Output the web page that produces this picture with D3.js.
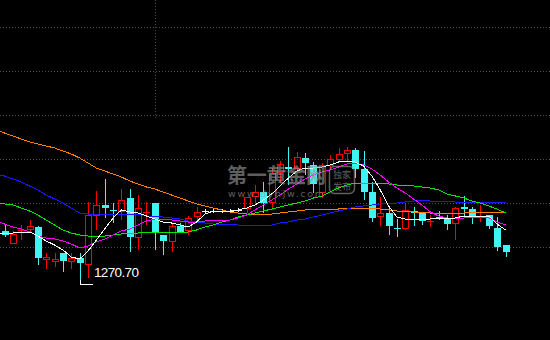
<!DOCTYPE html>
<html>
<head>
<meta charset="utf-8">
<script src="https://cdn.jsdelivr.net/npm/d3@7"></script>
<style>
html, body { margin: 0; padding: 0; background: #000; }
</style>
</head>
<body>
<div id="chart"></div>
<script>
var width = 550, height = 340;

// horizontal grid levels and the marked low
var gridPrices = [1321.3, 1312.5, 1303.7, 1294.9, 1286.1, 1277.3];
var lowLabel = "1270.70";
var lowIndex = 9;
var cursorIndex = 18;

// daily candles, oldest first
var opens  = [1280.5,1278.1,1280.5,1280.9,1281.3,1274.9,1274.5,1276.1,1274.5,1275.1,
              1273.9,1283.7,1285.7,1284.7,1284.5,1287.1,1279.3,1284.1,1286.1,1279.7,
              1278.5,1281.5,1280.7,1283.5,1284.5,1284.5,1284.5,1284.5,1284.7,1285.1,
              1287.5,1288.3,1286.3,1292.3,1293.3,1293.1,1295.1,1293.7,1288.3,1293.7,
              1294.9,1296.1,1296.7,1292.9,1288.3,1283.5,1284.1,1281.1,1281.1,1284.5,
              1284.1,1282.3,1283.3,1282.9,1282.1,1285.3,1284.9,1283.1,1283.7,1281.1,1277.7];
var highs  = [1281.7,1280.5,1281.7,1282.7,1281.5,1276.1,1276.1,1276.1,1276.1,1276.1,
              1286.3,1288.5,1290.9,1286.1,1288.9,1288.9,1287.7,1286.3,1286.1,1279.7,
              1282.1,1282.1,1283.5,1285.3,1284.9,1284.9,1284.9,1284.9,1285.1,1287.3,
              1289.7,1290.3,1293.1,1294.5,1297.3,1296.3,1296.1,1294.3,1294.1,1295.7,
              1297.1,1297.3,1297.1,1296.5,1290.3,1287.3,1285.3,1282.9,1286.1,1285.3,
              1284.1,1283.7,1284.5,1283.7,1285.3,1287.5,1285.3,1285.7,1283.7,1283.3,1277.7];
var lows   = [1279.3,1277.9,1278.7,1280.3,1273.7,1272.9,1273.3,1272.3,1272.9,1270.7,
              1271.1,1280.7,1283.1,1282.1,1282.7,1276.3,1276.7,1281.7,1276.7,1275.7,
              1276.3,1280.1,1279.7,1282.3,1284.1,1284.1,1284.1,1284.1,1284.3,1284.1,
              1286.1,1284.1,1284.7,1290.1,1289.7,1292.1,1291.7,1288.1,1287.1,1292.7,
              1294.3,1294.3,1291.1,1286.7,1282.3,1281.5,1279.7,1279.3,1280.7,1281.5,
              1281.7,1281.3,1282.7,1280.7,1278.7,1283.3,1281.9,1282.3,1280.9,1276.5,1275.3];
var closes = [1279.7,1279.9,1280.7,1281.5,1275.1,1275.3,1274.9,1274.5,1275.1,1274.1,
              1283.7,1285.7,1285.1,1284.5,1286.7,1279.3,1285.1,1284.3,1280.3,1278.5,
              1281.5,1280.3,1283.1,1284.3,1284.5,1284.5,1284.5,1284.5,1284.7,1287.3,
              1288.3,1286.1,1292.1,1293.9,1292.9,1295.3,1294.1,1289.9,1293.7,1294.9,
              1295.9,1296.7,1292.9,1288.3,1283.1,1284.1,1281.5,1280.9,1284.7,1284.1,
              1282.5,1282.5,1283.1,1281.9,1285.1,1284.9,1283.3,1283.3,1281.5,1277.3,1276.3];

// moving averages, first value belongs to the day before the first candle
var ma5  = [1280.1,1280.1,1280.1,1280.3,1280.3,1279.5,1278.5,1277.7,1276.7,1275.3,1274.9,
            1276.5,1278.7,1280.9,1283.1,1284.7,1284.3,1284.1,1283.5,1282.9,1282.3,
            1282.1,1281.7,1281.3,1282.3,1283.9,1284.5,1284.5,1284.5,1284.7,1285.1,
            1285.7,1286.7,1287.9,1289.5,1291.1,1292.5,1293.1,1293.1,1293.3,1293.7,
            1294.3,1294.5,1294.3,1293.5,1291.5,1288.7,1285.5,1283.3,1282.9,1282.9,
            1282.9,1282.9,1283.1,1283.1,1283.1,1283.5,1283.5,1283.5,1283.5,1281.9,1280.7];
var ma10 = [1282.5,1281.9,1281.3,1280.9,1280.3,1279.5,1279.1,1278.9,1278.5,1277.9,1277.1,
            1277.5,1278.3,1278.9,1279.7,1280.5,1280.9,1281.7,1282.5,1282.9,1282.9,
            1282.7,1282.5,1282.3,1282.3,1282.5,1282.7,1282.7,1282.7,1283.1,1283.7,
            1284.7,1285.7,1286.7,1287.7,1288.9,1289.9,1290.9,1291.7,1292.3,1292.7,
            1293.3,1293.9,1294.1,1293.7,1292.9,1291.7,1290.3,1289.1,1288.1,1286.9,
            1285.7,1284.3,1283.5,1283.1,1282.9,1283.1,1283.3,1283.3,1283.1,1282.3,1281.7];
var ma20 = [1286.3,1285.9,1285.7,1285.1,1284.5,1283.7,1282.7,1281.7,1280.7,1280.1,1279.7,
            1279.5,1279.5,1279.5,1279.7,1279.9,1280.1,1280.1,1280.3,1280.3,1280.3,
            1280.3,1280.3,1280.3,1280.7,1281.3,1281.7,1282.3,1282.7,1283.3,1283.7,
            1284.1,1284.5,1284.9,1285.3,1285.7,1286.1,1286.5,1287.1,1287.5,1288.3,
            1289.1,1289.7,1290.1,1290.1,1290.1,1290.1,1289.9,1289.7,1289.7,1289.5,
            1289.3,1289.1,1288.7,1287.9,1287.5,1287.1,1286.5,1286.1,1285.5,1284.9,1284.1];
var ma30 = [1291.9,1291.5,1290.9,1290.3,1289.5,1288.7,1287.7,1286.9,1286.1,1285.1,1284.1,
            1283.9,1283.9,1283.9,1283.9,1283.9,1283.9,1283.9,1283.5,1283.5,1283.3,
            1283.1,1282.9,1282.5,1282.3,1282.1,1281.9,1281.9,1281.9,1281.7,1281.7,
            1281.7,1281.7,1281.7,1282.1,1282.3,1282.7,1282.9,1283.3,1283.7,1284.1,
            1284.5,1284.9,1285.3,1285.5,1285.7,1285.9,1286.1,1286.1,1286.3,1286.5,
            1286.7,1286.5,1286.5,1286.5,1286.3,1286.3,1286.3,1286.3,1286.3,1286.3,1286.1];
var ma60 = [1300.7,1300.1,1299.5,1298.9,1298.3,1297.9,1297.5,1297.1,1296.5,1295.9,1295.1,
            1294.1,1293.1,1292.5,1291.9,1291.3,1290.5,1289.9,1289.3,1288.9,1288.3,
            1287.7,1287.1,1286.5,1285.9,1285.5,1285.1,1284.7,1284.3,1284.1,1283.9,
            1283.9,1283.9,1283.9,1284.1,1284.3,1284.5,1284.7,1284.9,1284.9,1284.9,
            1284.9,1285.1,1285.1,1285.1,1285.1,1284.9,1284.7,1284.5,1284.5,1284.3,
            1284.3,1284.1,1284.1,1284.1,1284.1,1284.1,1284.3,1284.3,1284.3,1284.3,1284.3];

var maSeries = [
    {values: ma60, color: "#ff8000"},
    {values: ma30, color: "#1a1aff"},
    {values: ma20, color: "#00e600"},
    {values: ma10, color: "#ff00ff"},
    {values: ma5,  color: "#ffffff"}
];

var upColor = "#ff0000", downColor = "#40f4f4", flatColor = "#ffffff";

var svg = d3.select("#chart").append("svg")
    .attr("width", width)
    .attr("height", height)
    .style("display", "block")
    .style("background", "#000");

var xScale = d3.scaleLinear()
    .domain([0, opens.length - 1])
    .range([4.5, 505.5]);

var yScale = d3.scaleLinear()
    .domain([1258.7, 1326.7])
    .range([height, 0]);

function px(i){ return Math.round(xScale(i)); }
function py(v){ return Math.round(yScale(v)); }

//Grid lines
svg.append("g").selectAll("line")
    .data(gridPrices)
    .enter().append("line")
    .attr("x1", 0)
    .attr("x2", width)
    .attr("y1", function(d){ return py(d) + 0.5; })
    .attr("y2", function(d){ return py(d) + 0.5; })
    .style("stroke", "#4a4a4a")
    .style("stroke-dasharray", "1,2");

//cursor line
svg.append("line")
    .attr("x1", px(cursorIndex) + 0.5)
    .attr("x2", px(cursorIndex) + 0.5)
    .attr("y1", 0)
    .attr("y2", py(gridPrices[2]) + 5)
    .style("stroke", "#4a4a4a")
    .style("stroke-dasharray", "1,2");

//Candles
var candles = svg.append("g").attr("shape-rendering", "crispEdges");

opens.forEach(function(o, i){
    var c = closes[i], h = highs[i], l = lows[i];
    var x = px(i);
    var top = py(Math.max(o, c)), bot = py(Math.min(o, c));
    var color = c > o ? upColor : (c < o ? downColor : flatColor);

    if (c > o && bot - top > 1){
        // hollow up candle
        candles.append("line")
            .attr("x1", x + 0.5).attr("x2", x + 0.5)
            .attr("y1", py(h)).attr("y2", top)
            .style("stroke", color);
        candles.append("line")
            .attr("x1", x + 0.5).attr("x2", x + 0.5)
            .attr("y1", bot).attr("y2", py(l))
            .style("stroke", color);
        candles.append("rect")
            .attr("x", x - 2.5)
            .attr("y", top + 0.5)
            .attr("width", 6)
            .attr("height", bot - top)
            .style("fill", "none")
            .style("stroke", color);
    } else {
        candles.append("line")
            .attr("x1", x + 0.5).attr("x2", x + 0.5)
            .attr("y1", py(h)).attr("y2", py(l))
            .style("stroke", color);
        candles.append("rect")
            .attr("x", x - 3)
            .attr("y", top)
            .attr("width", 7)
            .attr("height", Math.max(1, bot - top))
            .style("fill", color);
    }
});

//Moving averages
var maLine = d3.line()
    .x(function(d, i){ return xScale(i - 1); })
    .y(function(d){ return yScale(d); });

svg.append("g").selectAll("path")
    .data(maSeries)
    .enter().append("path")
    .attr("d", function(d){ return maLine(d.values); })
    .style("fill", "none")
    .style("stroke", function(d){ return d.color; })
    .style("stroke-width", 1)
    .attr("shape-rendering", "crispEdges");

//Low marker
var lx = px(lowIndex), ly = py(lows[lowIndex]);
svg.append("path")
    .attr("d", "M" + (lx + 0.5) + "," + ly + "V" + (ly + 4.5) + "H" + (lx + 13))
    .style("fill", "none")
    .style("stroke", "#ffffff")
    .attr("shape-rendering", "crispEdges");

svg.append("text")
    .attr("x", lx + 14)
    .attr("y", ly - 3)
    .attr("textLength", 45)
    .style("font-family", "'Liberation Sans', Arial, sans-serif")
    .style("font-size", "13.5px")
    .style("fill", "#ffffff")
    .text(lowLabel);

//Watermark
var wm = svg.append("g").style("opacity", 0.62);

wm.append("text")
    .attr("x", 227)
    .attr("y", 183)
    .attr("textLength", 99)
    .style("font-family", "'Noto Sans CJK SC', sans-serif")
    .style("font-weight", "bold")
    .style("font-size", "20px")
    .style("fill", "#9a9a9a")
    .text("第一黄金网");

wm.append("text")
    .attr("x", 228)
    .attr("y", 197)
    .attr("textLength", 96)
    .style("font-family", "'DejaVu Sans', sans-serif")
    .style("font-size", "9.5px")
    .style("fill", "#9a9a9a")
    .text("www.dyhjw.com");

wm.append("rect")
    .attr("x", 329.5)
    .attr("y", 166.5)
    .attr("width", 25)
    .attr("height", 27)
    .attr("rx", 5)
    .style("fill", "none")
    .style("stroke", "#9a9a9a")
    .style("stroke-width", 1.5);

wm.append("text")
    .attr("x", 342)
    .attr("y", 178)
    .attr("text-anchor", "middle")
    .style("font-family", "'Noto Sans CJK SC', sans-serif")
    .style("font-size", "9px")
    .style("fill", "#9a9a9a")
    .text("独家");

wm.append("text")
    .attr("x", 342)
    .attr("y", 190)
    .attr("text-anchor", "middle")
    .style("font-family", "'Noto Sans CJK SC', sans-serif")
    .style("font-size", "9px")
    .style("fill", "#9a9a9a")
    .text("发布");
</script>
</body>
</html>
